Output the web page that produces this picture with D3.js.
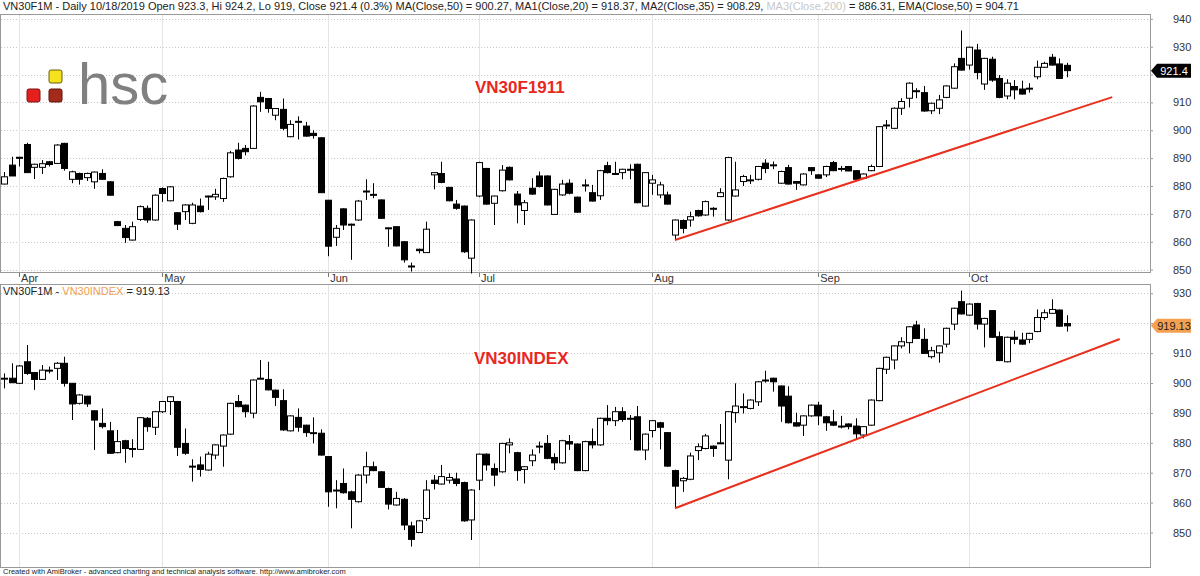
<!DOCTYPE html>
<html>
<head>
<meta charset="utf-8">
<script src="https://cdn.jsdelivr.net/npm/d3@7"></script>
<style>
  body { margin: 0; background: #fff; }
  text { font-family: Arial, "Liberation Sans", sans-serif; }
</style>
</head>
<body>
<div id="chart"></div>
<script>
// VN30F1911 futures (top pane)
var futOpen  = [880.7,887.5,890.3,894.9,886.7,886.7,888.7,888.1,895.3,882.4,884.5,883,881.5,884.5,881.5,867.2,864.8,860.6,868,872,867.8,879.1,874.7,870.4,870.8,866.6,872.8,876.3,876.1,875.5,883.3,892.9,893.5,893.5,911.8,911.4,905.4,907.5,897.7,903,901.5,898.9,897.3,874.9,
  861.6,871.8,866.3,867.8,878.2,877,875,865,865.4,860,851.3,857.3,856.1,884,884.5,879.5,873.5,872.8,854.1,876.4,886.3,873.8,878.3,886.7,877.1,871.2,879.2,883.6,883.6,869.8,876.8,881,876,880.4,877.6,876.5,887.3,884.5,884.8,886,887.8,872.8,881,876.8,876.8,862.4,867.6,867.8,
  871.2,869.6,872,876.2,867.8,876.4,881.6,882.2,882.4,888.2,887.6,881,886.6,881.6,880.4,886.6,884,884,888.4,886.3,887,885.5,882.8,885.5,887,901.9,900.7,907.9,911.5,914.2,913.5,907,907.9,911.8,915.1,925.8,923.4,928.8,916.6,925.5,918.6,912.3,915.7,914.8,915.1,919.2,922.6,926.2,923.8,923.3];
var futHigh  = [885,890.5,890.5,895.5,888,889.3,889,895,895.5,885.5,884.8,884.8,885.2,886,881.8,867.5,866,867.2,873,873,877,879.5,880,870.6,873.5,874,875.5,876.5,879,883,892.6,895.5,894.7,909,913.8,911.6,908,911.4,903.6,905,903,900,897.5,875,
  866,872,866.5,875,882.4,881,875.2,865.1,865.5,860.2,852.5,857.5,867.2,885,888.7,879.7,875,873,868,888.7,886.5,876.5,887.5,887,878.2,875,882.8,885.2,883.8,879,882.2,882.4,876.2,882.4,880.4,885.8,888.7,888.7,886.2,887.8,888,885,884,881.5,878,868,868,870.8,
  871.5,874.8,872.4,879.2,890.5,888.7,884,884,887.2,889.6,888.8,885.5,887.6,881.7,884.6,886.7,884.2,887.3,889,887.2,887.2,885.7,884.5,887.7,901.5,903.7,908.2,911.5,917.2,915.1,915.9,909.9,912.7,916.1,924,935.8,930,931,926,926.4,919.8,918.3,918,917.8,916.9,925,924.6,927.4,925.8,924.2];
var futLow   = [880.6,883.6,887,884.8,882.5,884.3,887,888,885.5,881,880.5,881.8,879,882.2,876.5,865.6,859.6,860.4,867.5,866.8,867.5,874.3,874.5,864.2,867.8,866.3,870.5,871.4,875,874.3,883,889.5,891,893.3,906.6,906.3,903.6,900,897.5,896.7,897.7,897,877.5,854.8,
  858.5,864.2,853.5,867.5,875,875.6,868.2,858.2,858.3,852.5,849.3,855.8,856,878.8,881,874.5,871.5,856,848.6,876,873.3,866,878,882,866.6,866,876.8,879.5,873,869.6,876.5,877,870.4,878,874.4,875,884.5,884,882.4,882.4,873.8,872.6,876.8,875.6,873.3,860.6,863,865.4,
  869,869.3,869,876,867.5,876.2,880,880.7,882,884.6,886,880.8,880.5,878.6,880.2,884,882.6,883.2,885.3,885.2,885.3,882,882.5,885.3,886.8,900.4,900.4,905.5,908.2,911.5,906.7,905.8,905.8,911.5,914.9,921.4,921.8,918.3,914.5,917.4,911.5,911.1,911.1,912.8,913.5,918.3,922.4,923.2,918.4,919];
var futClose = [883.3,883.6,890,884.8,887.8,888,887.7,894.7,886.3,885.1,882.4,884.5,885,882.4,876.7,865.8,861.5,865.4,872.6,867.8,876.7,877.3,879.7,866.3,873.2,873.2,870.8,876.4,877,882.7,891.9,889.9,892.3,908.7,910.2,907.8,907.8,900.7,902.1,903.2,897.9,898.1,877.6,858.4,
  864.8,866,866.2,874.6,878.2,877,868.4,865,858.5,853.5,851.3,856.8,864.5,884.8,881.3,874.7,872,856.4,867.8,888.4,873.5,876.4,885.7,882.2,873.2,874,877.1,879.8,873.2,878.8,880.7,877.4,870.6,880.4,874.6,885.5,884.8,884.5,886,886,874,884.8,882.2,880.4,873.5,867.8,864.8,869,
  869.3,874.4,872,877.6,890.2,878.6,883.4,882.2,887,886.3,887.6,885.2,880.7,881,884.3,885.5,882.8,887,885.5,886.3,885.4,882.4,884.3,887,901.3,901.9,907.9,910.3,916.9,914.2,906.9,909.7,910.9,915.9,922.8,921.6,929.8,920.7,925.8,918,911.8,916.9,914.5,913,915.1,922.6,924,923.4,918.6,921.4];

// VN30INDEX (bottom pane)
var idxOpen  = [901.6,901.6,899.9,907.1,903.5,901.2,904.3,904.9,906.6,899.9,893.2,895.6,890.7,886.5,884,876.7,880.7,878.1,877.8,888.2,885.2,890.4,893.8,893.8,879.8,872.2,872.6,870.9,875.9,878.9,882.9,893.8,892.6,889.9,901.6,901.2,897.6,894.1,884,888.5,885.9,883.4,883.2,875.4,864.2,
  866.4,863.6,860.3,869.2,872,870.3,864.7,859.2,861.1,852.2,850,854.7,867.5,866.2,867.5,867.9,866.7,854.2,867.5,876.2,871.4,870.3,879.3,876.7,871.1,874,878.9,879.8,875.1,873.3,880.4,879.6,870.7,880.4,879.3,888.2,887.4,890.4,888.2,888.7,877.6,884.1,886.7,883.4,870.7,867.3,867.8,
  877.4,878.1,878.9,880,874.2,890.1,892.1,891.5,893.7,901,901.6,899,895.6,886.7,885.9,889,892.6,888.7,887,885.6,886.3,885.6,882.6,885.9,894.1,904.6,907.7,912.4,913.5,919.4,914.6,908.8,910.1,913,919.7,927.2,922.7,926.6,919.7,924.2,915.5,907.1,915.3,914.4,914.6,917.2,921.9,923.3,924.4,919.9];
var idxHigh  = [903.2,906.6,906,912.7,903.7,906,905.5,907,908.8,900,896.3,895.6,890.9,891.5,887,884.3,881,881.2,888.6,888.6,890.7,894,895.6,894,884.8,874.5,875.4,877,879.5,882.8,893.4,896,892.8,901.2,907.7,907.1,897.8,897.9,889.2,891.5,886,888.5,884.5,875.6,867.5,
  871.4,864,869.5,877,873.7,870.5,865,863.6,861.5,853.6,854.2,867.5,869.2,872.6,869.8,870,867,864.5,876.4,876.5,873.1,880,881.5,877,872.2,877.8,880.4,882.6,876.5,881,882.6,879.8,880.7,884.8,888.4,892.6,892,891.9,889.3,892.3,883.1,887.6,887,883.6,871,868.6,876.7,
  879.8,883,879.2,886.3,890.6,899.9,896.5,894.6,900.6,904.1,901.8,899.2,898.9,890.1,889.2,892.8,893.7,889,891,889,886.5,888.2,885.6,894.5,905.1,908.8,912.6,915.3,919,920.8,918.3,912.1,912.6,918.5,925.2,930.9,926.6,926.8,921.8,924.4,917.2,915.5,917.5,916.8,916.8,924.6,924.6,928,924.6,922.7];
var idxLow   = [898.2,900,899.7,902.7,897.7,901,903.2,901,898.8,887.6,892.8,892,877.6,884.8,876.3,876.5,873.3,875.1,877.6,883.7,882.6,890,889.3,875.6,876,867,868.7,870.7,874.5,872,882.6,891.9,888.5,888.2,901.2,897.5,892.3,884,883.8,883.7,882,879.8,875.7,858.6,858.1,
  863,851.4,860,866.4,870.5,865,857.7,859,850.8,845.3,849.8,853.9,864.4,866,866.4,865.5,853.6,847.5,864.2,870.7,865.5,870,876.5,867.3,866.4,872.2,876.5,874.5,870.9,873,877.6,870.5,870.5,878.1,879,885.9,885.6,887,880.9,877.4,874.2,881.8,877.8,872,858.1,863.6,867.5,
  874.2,877.8,875.3,879.6,867.8,886.7,889.8,891.2,892.3,900.1,897.1,887,886.5,885.4,882.3,888.7,885.9,884,885.6,884.8,884.5,881.2,881.5,885.7,893.9,903,904.6,911.6,909.9,914.7,909.7,908.2,906.8,911.9,917.7,922.9,922.5,917.9,911.9,915.1,907.3,906.9,913,912.8,913.3,917,921.1,923.1,918.8,917.2];
var idxClose = [901.6,900.1,905.7,903.2,901.2,904.3,904.3,906.6,899.9,893,896,893,887.6,885.4,876.5,880.4,878.1,878.1,888.4,885.4,890.4,893.8,895.4,878.5,876.5,872.2,871.1,876.2,879.3,882.6,893.2,892.1,890.4,901,901.6,897.7,895.2,884.3,889,885.2,883.4,883.4,875.9,863.6,864.2,
  863.3,861.1,869.2,872,870.7,865.1,859.5,861.4,852.5,847.7,853.9,864.2,866.4,868.7,868.4,866.4,853.9,864.2,876.2,872.6,869.2,879.8,880,870.7,872,875.9,878.9,874.8,873.3,880.7,879.6,870.7,880.4,879.3,888.2,887.4,890.4,887.8,888.2,877.6,882.9,887.4,885.2,872.2,865.5,868.1,875.6,
  878.7,882.3,878.1,880,890.4,892.3,892.1,894.3,900.4,901,900.4,892.3,886.7,885.6,889,892.6,889,886.7,885.9,885.6,885.4,883,885.4,894.3,904.9,908.6,912.4,913.8,918.8,914.9,909.9,910.8,912.4,918.3,925,923.1,926.4,919.7,921.6,915.3,907.5,915.3,914.6,913,916.6,921.9,923.5,924.6,919,919.1];

var months = ["Apr", "May", "Jun", "Jul", "Aug", "Sep", "Oct"];
var monthIdx = [2, 21, 43, 63, 86, 108, 128];
var futTicks = [850, 860, 870, 880, 890, 900, 910, 920, 930, 940];
var idxTicks = [850, 860, 870, 880, 890, 900, 910, 920, 930];
// trend lines: [index, value]
var futTrend = [[89, 860.6], [147, 911.9]];
var idxTrend = [[89, 858.1], [148, 914.7]];

var W = 1200, H = 576, plotRight = 1150;

var svg = d3.select("#chart").append("svg")
    .attr("width", W).attr("height", H);

var x = d3.scaleLinear().domain([0, futClose.length - 1]).range([4, 1067]);
var yTop = d3.scaleLinear().domain([850, 940]).range([269.6, 18.8]);
var yBot = d3.scaleLinear().domain([850, 930]).range([532.5, 293.3]);

function pane(y, top, bottom, ticks, hideTick, o, h, l, c, trend) {
    var g = svg.append("g");
    g.append("rect").attr("x", 0.5).attr("y", top + 0.5)
        .attr("width", plotRight).attr("height", bottom - top)
        .attr("fill", "none").attr("stroke", "#999");

    g.selectAll(".hgrid").data(ticks).enter().append("line")
        .attr("x1", 1).attr("x2", plotRight)
        .attr("y1", function (d) { return Math.round(y(d)) + 0.5; })
        .attr("y2", function (d) { return Math.round(y(d)) + 0.5; })
        .attr("stroke", "#c8c8c8").attr("stroke-dasharray", "1,2");

    g.selectAll(".vgrid").data(monthIdx).enter().append("line")
        .attr("x1", function (d) { return Math.round(x(d)) + 0.5; })
        .attr("x2", function (d) { return Math.round(x(d)) + 0.5; })
        .attr("y1", top + 1).attr("y2", bottom)
        .attr("stroke", "#e4e4e4");

    // the tick hidden behind the last-value tag is left without a label
    var axis = d3.axisRight(y).tickValues(ticks).tickSize(3).tickPadding(20)
        .tickFormat(function (d) { return d === hideTick ? "" : d; });
    var ax = g.append("g").attr("transform", "translate(" + plotRight + ",0)").call(axis);
    ax.select(".domain").remove();
    ax.selectAll("line").attr("stroke", "#999");
    ax.selectAll("text").attr("font-size", 11).attr("fill", "#333")
        .attr("font-family", "Arial, 'Liberation Sans', sans-serif");

    var idx = d3.range(c.length);
    g.selectAll(".wick").data(idx).enter().append("line")
        .attr("x1", function (i) { return Math.round(x(i)) + 0.5; })
        .attr("x2", function (i) { return Math.round(x(i)) + 0.5; })
        .attr("y1", function (i) { return y(h[i]); })
        .attr("y2", function (i) { return y(l[i]); })
        .attr("stroke", "#000");
    g.selectAll(".body").data(idx).enter().append("rect")
        .attr("x", function (i) { return Math.round(x(i)) - 2.5; })
        .attr("width", 6)
        .attr("y", function (i) { return y(Math.max(o[i], c[i])); })
        .attr("height", function (i) { return Math.max(1, Math.abs(y(o[i]) - y(c[i]))); })
        .attr("fill", function (i) { return c[i] >= o[i] ? "#fff" : "#000"; })
        .attr("stroke", "#000").attr("stroke-width", 1);

    g.append("line")
        .attr("x1", x(trend[0][0])).attr("y1", y(trend[0][1]))
        .attr("x2", x(trend[1][0])).attr("y2", y(trend[1][1]))
        .attr("stroke", "#e8301c").attr("stroke-width", 2);
    return g;
}

pane(yTop, 14, 272, futTicks, 920, futOpen, futHigh, futLow, futClose, futTrend);
pane(yBot, 284, 567, idxTicks, 920, idxOpen, idxHigh, idxLow, idxClose, idxTrend);

// month labels between panes
var ml = svg.append("g");
ml.selectAll("line").data(monthIdx).enter().append("line")
    .attr("x1", function (d) { return Math.round(x(d)) + 0.5; })
    .attr("x2", function (d) { return Math.round(x(d)) + 0.5; })
    .attr("y1", 273).attr("y2", 277).attr("stroke", "#777");
ml.selectAll("text").data(months).enter().append("text")
    .attr("x", function (d, i) { return x(monthIdx[i]) + 2; })
    .attr("y", 282).attr("font-size", 11).attr("fill", "#333")
    .text(function (d) { return d; });

// header texts
var hdr = svg.append("text").attr("x", 3).attr("y", 10).attr("font-size", 11).attr("fill", "#222");
hdr.append("tspan").text("VN30F1M - Daily 10/18/2019 Open 923.3, Hi 924.2, Lo 919, Close 921.4 (0.3%) MA(Close,50) = 900.27, MA1(Close,20) = 918.37, MA2(Close,35) = 908.29, ");
hdr.append("tspan").attr("fill", "#c8c8c8").text("MA3(Close,200)");
hdr.append("tspan").text(" = 886.31, EMA(Close,50) = 904.71");

var hdr2 = svg.append("text").attr("x", 3).attr("y", 295).attr("font-size", 11).attr("fill", "#222");
hdr2.append("tspan").text("VN30F1M - ");
hdr2.append("tspan").attr("fill", "#f0a050").text("VN30INDEX");
hdr2.append("tspan").text(" = 919.13");

// pane titles
svg.append("text").attr("x", 475).attr("y", 93).attr("font-size", 17).attr("font-weight", "bold")
    .attr("fill", "#e8281e").text("VN30F1911");
svg.append("text").attr("x", 474).attr("y", 364).attr("font-size", 17).attr("font-weight", "bold")
    .attr("fill", "#e8281e").text("VN30INDEX");

// hsc logo
var logo = svg.append("g");
logo.append("rect").attr("x", 27).attr("y", 89).attr("width", 13).attr("height", 13).attr("rx", 2)
    .attr("fill", "#e4201e").attr("stroke", "#7a1010");
logo.append("rect").attr("x", 49).attr("y", 89).attr("width", 13).attr("height", 13).attr("rx", 2)
    .attr("fill", "#a42a1c").attr("stroke", "#5a1208");
logo.append("rect").attr("x", 49).attr("y", 70).attr("width", 13).attr("height", 13).attr("rx", 2)
    .attr("fill", "#f4e21c").attr("stroke", "#6a5a08");
logo.append("text").attr("x", 78).attr("y", 104).attr("font-size", 58).attr("fill", "#808080")
    .attr("font-family", "Arial, 'Liberation Sans', sans-serif").text("hsc");

// last-value tags
function tag(yv, label, fill, color) {
    var g = svg.append("g").attr("transform", "translate(1151," + yv + ")");
    g.append("path").attr("d", "M0,0 L6,-7 L40,-7 L40,7 L6,7 Z").attr("fill", fill);
    g.append("text").attr("x", 23).attr("y", 4).attr("text-anchor", "middle")
        .attr("font-size", 11).attr("fill", color).text(label);
}
tag(yTop(921.4), "921.4", "#000", "#fff");
tag(yBot(919.13), "919.13", "#f5a050", "#222");

svg.append("text").attr("x", 3).attr("y", 574).attr("font-size", 7.5).attr("fill", "#222")
    .text("Created with AmiBroker - advanced charting and technical analysis software. http://www.amibroker.com");
</script>
</body>
</html>
